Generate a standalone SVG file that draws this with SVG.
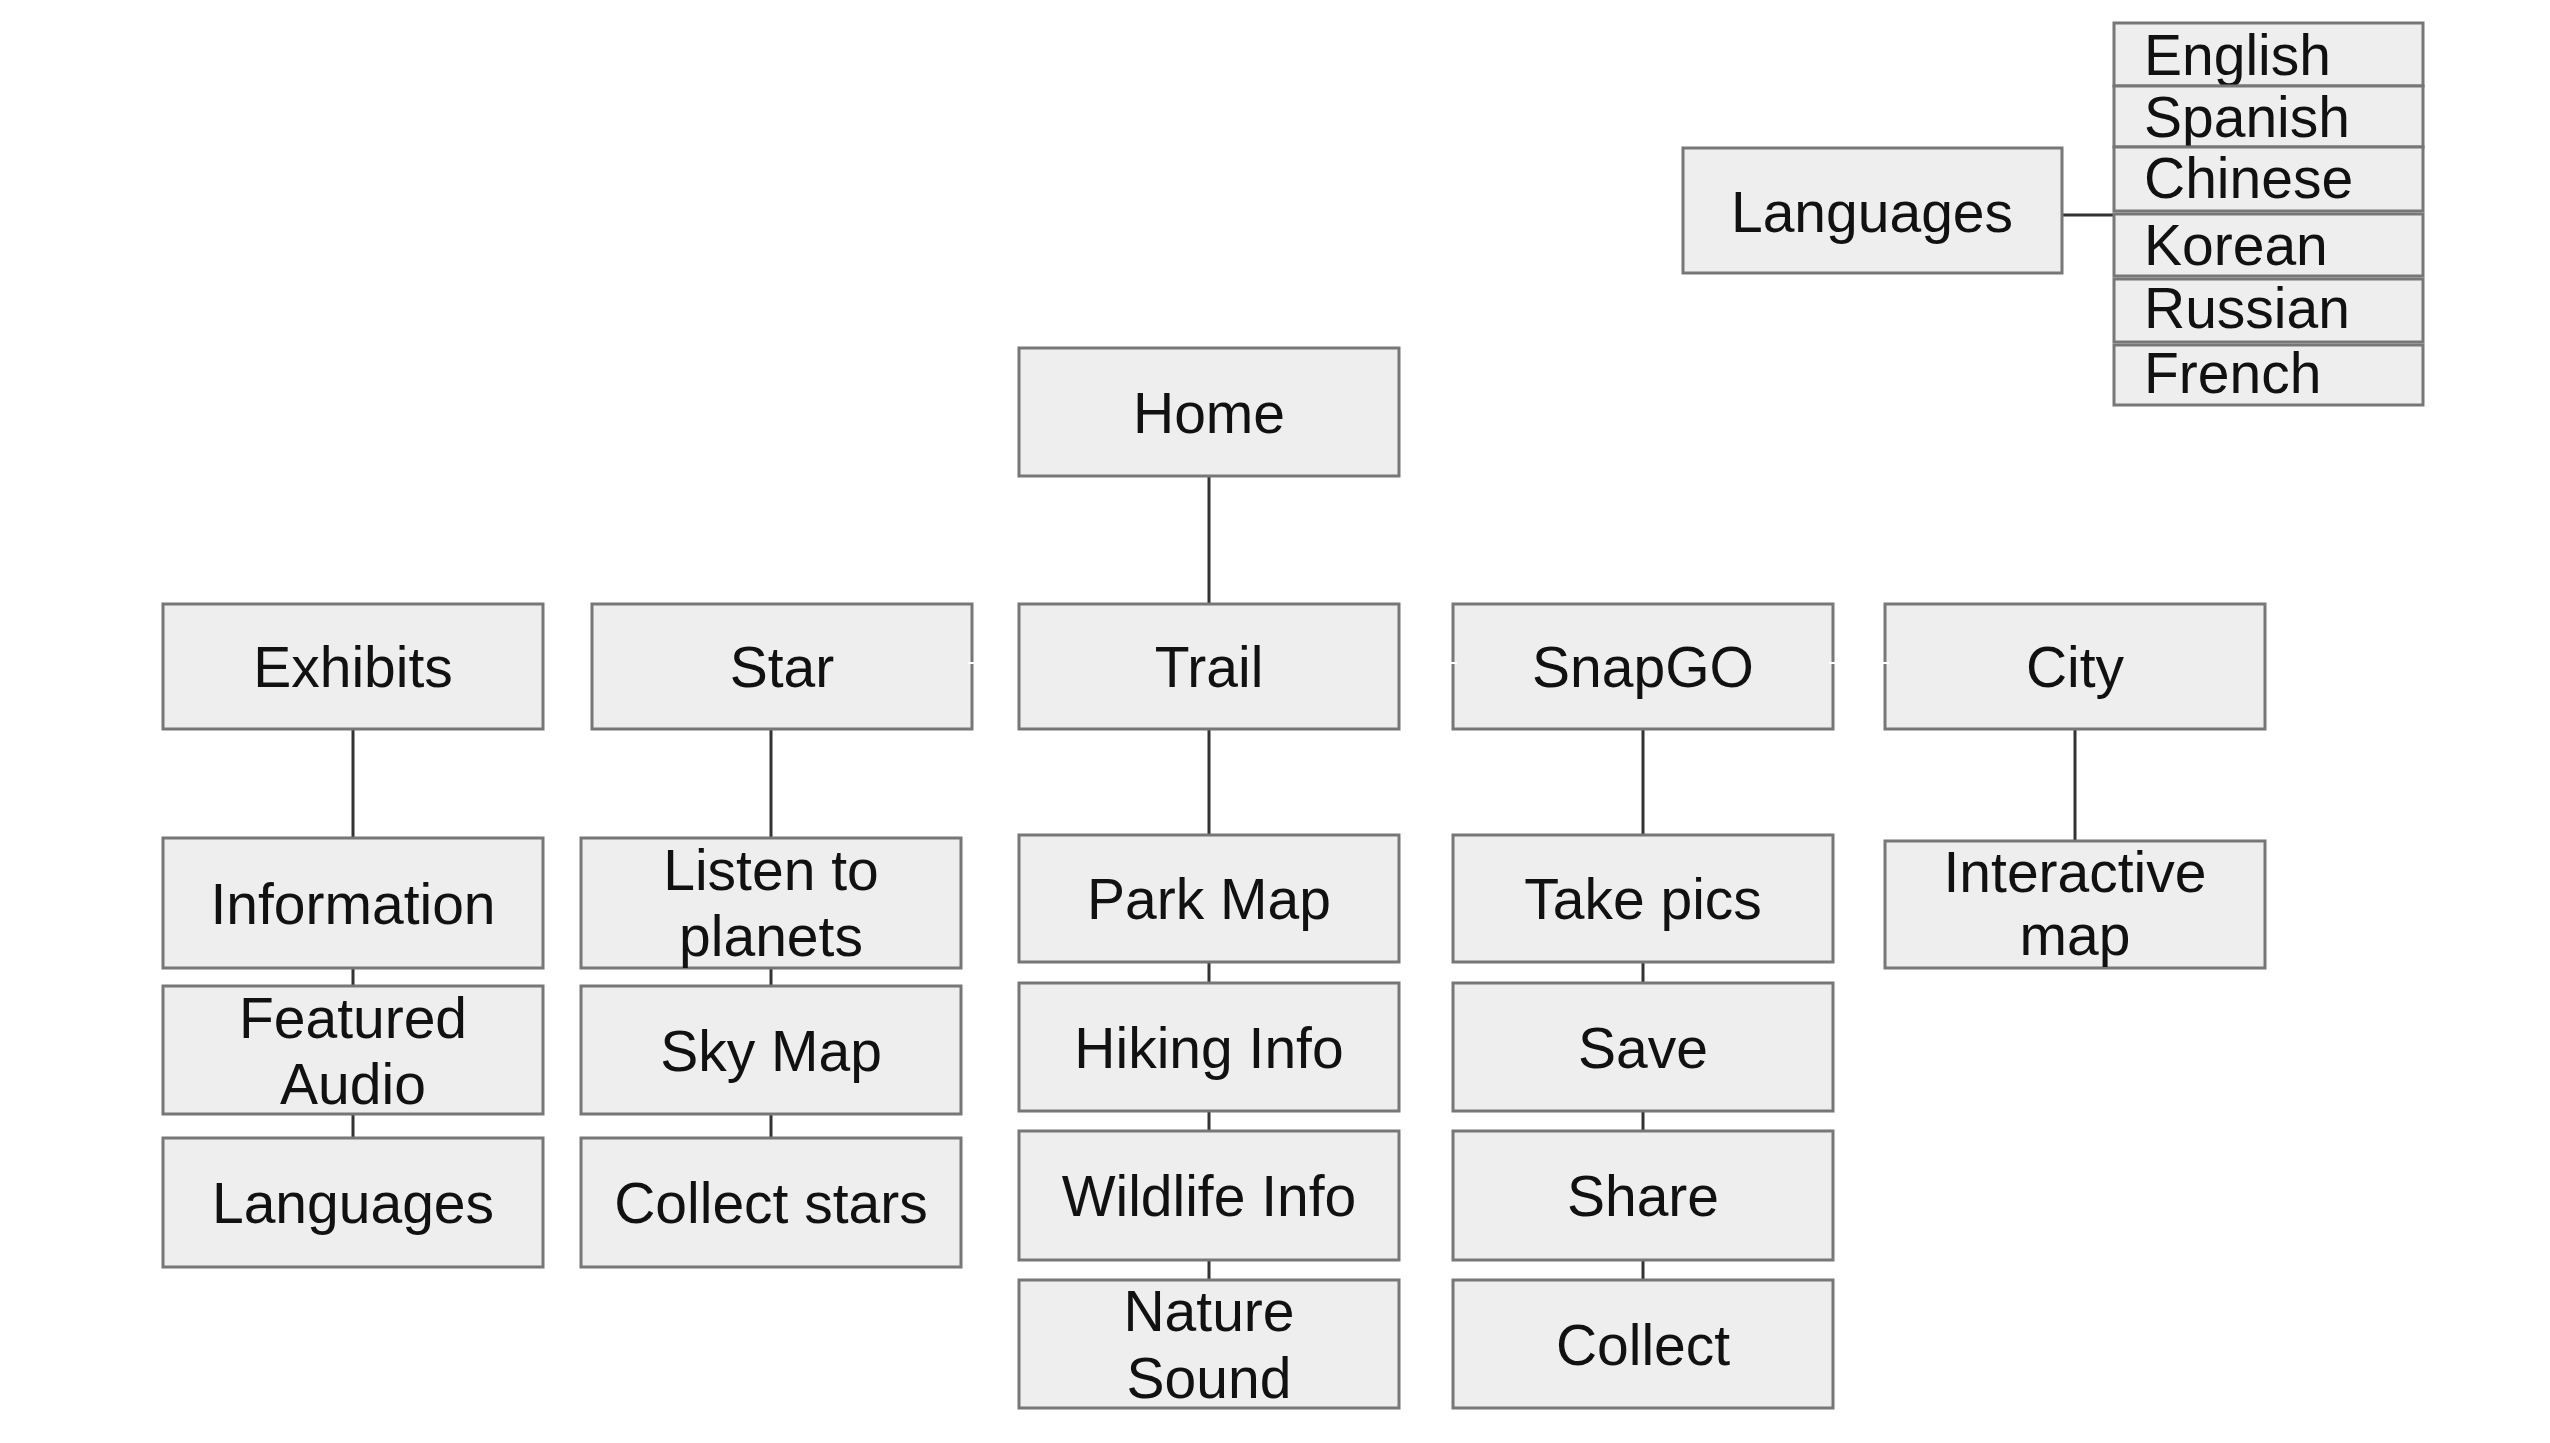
<svg xmlns="http://www.w3.org/2000/svg" width="2550" height="1443" viewBox="0 0 2550 1443">
<style>
.box{fill:#eeeeee;stroke:#777777;stroke-width:3}
.t{font-family:"Liberation Sans",Arial,sans-serif;font-size:57px;fill:#111111;text-anchor:middle}
.tl{font-family:"Liberation Sans",Arial,sans-serif;font-size:57px;fill:#111111;text-anchor:start}
.c{stroke:#333333;stroke-width:3;fill:none}
.w{stroke:#ffffff;stroke-width:2;fill:none}
</style>
<rect x="0" y="0" width="2550" height="1443" fill="#ffffff"/>
<g id="connectors">
<line class="c" x1="2062" y1="215" x2="2114" y2="215"/>
<line class="c" x1="1209" y1="476" x2="1209" y2="604"/>
<line class="c" x1="353" y1="729" x2="353" y2="838"/>
<line class="c" x1="353" y1="968" x2="353" y2="986"/>
<line class="c" x1="353" y1="1114" x2="353" y2="1138"/>
<line class="c" x1="771" y1="729" x2="771" y2="838"/>
<line class="c" x1="771" y1="968" x2="771" y2="986"/>
<line class="c" x1="771" y1="1114" x2="771" y2="1138"/>
<line class="c" x1="1209" y1="729" x2="1209" y2="835"/>
<line class="c" x1="1209" y1="962" x2="1209" y2="983"/>
<line class="c" x1="1209" y1="1111" x2="1209" y2="1131"/>
<line class="c" x1="1209" y1="1260" x2="1209" y2="1280"/>
<line class="c" x1="1643" y1="729" x2="1643" y2="835"/>
<line class="c" x1="1643" y1="962" x2="1643" y2="983"/>
<line class="c" x1="1643" y1="1111" x2="1643" y2="1131"/>
<line class="c" x1="1643" y1="1260" x2="1643" y2="1280"/>
<line class="c" x1="2075" y1="729" x2="2075" y2="841"/>
</g>
<g id="lang-main"><rect class="box" x="1683" y="148" width="379" height="125"/><text class="t" x="1872" y="232">Languages</text></g>
<g id="lang-english"><rect class="box" x="2114" y="23" width="309" height="63"/><text class="tl" x="2144" y="75">English</text></g>
<g id="lang-spanish"><rect class="box" x="2114" y="86" width="309" height="61"/><text class="tl" x="2144" y="137">Spanish</text></g>
<g id="lang-chinese"><rect class="box" x="2114" y="147" width="309" height="64"/><text class="tl" x="2144" y="198">Chinese</text></g>
<g id="lang-korean"><rect class="box" x="2114" y="214" width="309" height="62"/><text class="tl" x="2144" y="265">Korean</text></g>
<g id="lang-russian"><rect class="box" x="2114" y="279" width="309" height="63"/><text class="tl" x="2144" y="328">Russian</text></g>
<g id="lang-french"><rect class="box" x="2114" y="345" width="309" height="60"/><text class="tl" x="2144" y="393">French</text></g>
<g id="home"><rect class="box" x="1019" y="348" width="380" height="128"/><text class="t" x="1209" y="433">Home</text></g>
<g id="exhibits"><rect class="box" x="163" y="604" width="380" height="125"/><text class="t" x="353" y="687">Exhibits</text></g>
<g id="star"><rect class="box" x="592" y="604" width="380" height="125"/><text class="t" x="782" y="687">Star</text></g>
<g id="trail"><rect class="box" x="1019" y="604" width="380" height="125"/><text class="t" x="1209" y="687">Trail</text></g>
<g id="snapgo"><rect class="box" x="1453" y="604" width="380" height="125"/><text class="t" x="1643" y="687">SnapGO</text></g>
<g id="city"><rect class="box" x="1885" y="604" width="380" height="125"/><text class="t" x="2075" y="687">City</text></g>
<g id="information"><rect class="box" x="163" y="838" width="380" height="130"/><text class="t" x="353" y="924">Information</text></g>
<g id="featured-audio"><rect class="box" x="163" y="986" width="380" height="128"/><text class="t" x="353" y="1038">Featured</text><text class="t" x="353" y="1104">Audio</text></g>
<g id="exhibit-languages"><rect class="box" x="163" y="1138" width="380" height="129"/><text class="t" x="353" y="1223">Languages</text></g>
<g id="listen-planets"><rect class="box" x="581" y="838" width="380" height="130"/><text class="t" x="771" y="890">Listen to</text><text class="t" x="771" y="956">planets</text></g>
<g id="sky-map"><rect class="box" x="581" y="986" width="380" height="128"/><text class="t" x="771" y="1071">Sky Map</text></g>
<g id="collect-stars"><rect class="box" x="581" y="1138" width="380" height="129"/><text class="t" x="771" y="1223">Collect stars</text></g>
<g id="park-map"><rect class="box" x="1019" y="835" width="380" height="127"/><text class="t" x="1209" y="919">Park Map</text></g>
<g id="hiking-info"><rect class="box" x="1019" y="983" width="380" height="128"/><text class="t" x="1209" y="1068">Hiking Info</text></g>
<g id="wildlife-info"><rect class="box" x="1019" y="1131" width="380" height="129"/><text class="t" x="1209" y="1216">Wildlife Info</text></g>
<g id="nature-sound"><rect class="box" x="1019" y="1280" width="380" height="128"/><text class="t" x="1209" y="1331">Nature</text><text class="t" x="1209" y="1398">Sound</text></g>
<g id="take-pics"><rect class="box" x="1453" y="835" width="380" height="127"/><text class="t" x="1643" y="919">Take pics</text></g>
<g id="save"><rect class="box" x="1453" y="983" width="380" height="128"/><text class="t" x="1643" y="1068">Save</text></g>
<g id="share"><rect class="box" x="1453" y="1131" width="380" height="129"/><text class="t" x="1643" y="1216">Share</text></g>
<g id="collect"><rect class="box" x="1453" y="1280" width="380" height="128"/><text class="t" x="1643" y="1365">Collect</text></g>
<g id="interactive-map"><rect class="box" x="1885" y="841" width="380" height="127"/><text class="t" x="2075" y="892">Interactive</text><text class="t" x="2075" y="955">map</text></g>
<g id="edge-marks">
<line class="w" x1="968" y1="663" x2="976" y2="663"/>
<line class="w" x1="1449" y1="663" x2="1457" y2="663"/>
<line class="w" x1="1829" y1="663" x2="1837" y2="663"/>
<line class="w" x1="1881" y1="663" x2="1889" y2="663"/>
</g>
</svg>
